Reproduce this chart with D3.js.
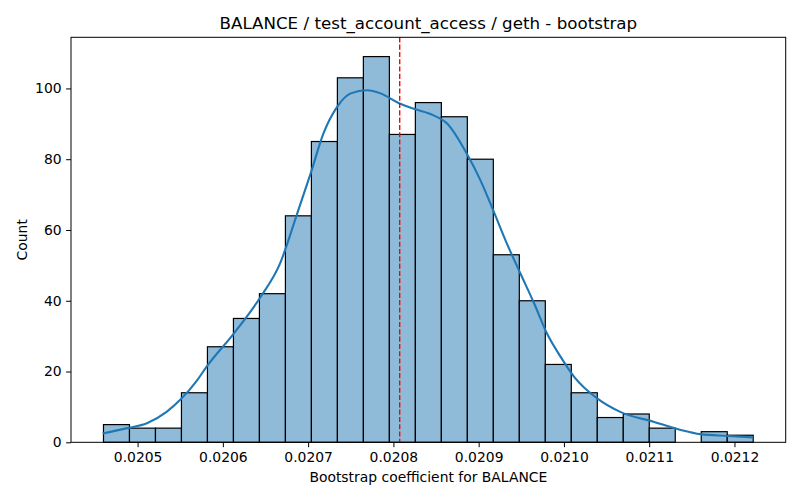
<!DOCTYPE html>
<html><head><meta charset="utf-8">
<script src="https://cdn.jsdelivr.net/npm/d3@7"></script>
<style>body{margin:0;background:#fff}text{font-family:"DejaVu Sans",sans-serif}</style>
</head><body><svg id="c" width="800" height="500"></svg>
<script>
const title = "BALANCE / test_account_access / geth - bootstrap";
const xLabel = "Bootstrap coefficient for BALANCE";
const yLabel = "Count";
const binRange = [0.020460, 0.021222];
const counts = [5,4,4,14,27,35,42,64,85,103,109,87,96,92,80,53,40,22,14,7,8,4,0,3,2];
const xTicks = [0.0205,0.0206,0.0207,0.0208,0.0209,0.0210,0.0211,0.0212];
const yTicks = [0,20,40,60,80,100];
const meanValue = 0.0208074;
const kdeX = [0.020459,0.020488,0.020511,0.020534,0.020550,0.020570,0.020581,0.020613,0.020644,0.020667,0.020687,0.020703,0.020718,0.020734,0.020750,0.020769,0.020785,0.020806,0.020823,0.020847,0.020863,0.020886,0.020902,0.020917,0.020933,0.020949,0.020965,0.020980,0.020996,0.021012,0.021039,0.021066,0.021105,0.021137,0.021160,0.021192,0.021222];
const kdeY = [2.5,4.0,5.4,8.6,12,17.6,21.4,30.8,41,50.5,64.5,76,87.3,94.8,98.6,99.5,98.6,95.9,94.3,92.4,90.1,81.6,74.1,65.6,56.2,47.7,39.3,30.8,24.2,18.5,12.4,8.6,5.8,3.5,2.3,1.8,1.4];

const svg = d3.select("#c");
const L=71, R=785.7, T=37.3, B=442.3;
const span = binRange[1]-binRange[0];
const x = d3.scaleLinear().domain([binRange[0]-0.05*span, binRange[1]+0.05*span]).range([L,R]);
const y = d3.scaleLinear().domain([0, d3.max(counts)*1.05]).range([B,T]);
const bw = span/counts.length;
const bins = counts.map((c,i)=>({x0: binRange[0]+i*bw, x1: binRange[0]+(i+1)*bw, c}));

svg.append("g").selectAll("rect").data(bins).join("rect")
  .attr("x", d=>x(d.x0)).attr("width", d=>x(d.x1)-x(d.x0))
  .attr("y", d=>y(d.c)).attr("height", d=>B-y(d.c))
  .attr("fill", "#8fbbd9").attr("stroke", "#000").attr("stroke-width", 1.2);

const line = d3.line().x((d,i)=>x(kdeX[i])).y(d=>y(d)).curve(d3.curveMonotoneX);
svg.append("path").attr("d", line(kdeY)).attr("fill","none").attr("stroke","#1f77b4").attr("stroke-width",2.1);

svg.append("line").attr("x1", x(meanValue)).attr("x2", x(meanValue)).attr("y1", T).attr("y2", B)
  .attr("stroke","#ff0000").attr("stroke-width",1.4).attr("stroke-dasharray","5.1,2.2");

svg.append("rect").attr("x",L).attr("y",T).attr("width",R-L).attr("height",B-T).attr("fill","none").attr("stroke","#000").attr("stroke-width",1);

const xa = svg.append("g").attr("transform",`translate(0,${B})`)
  .call(d3.axisBottom(x).tickValues(xTicks).tickFormat(d3.format(".4f")).tickSize(4.9).tickPadding(4.5));
const ya = svg.append("g").attr("transform",`translate(${L},0)`)
  .call(d3.axisLeft(y).tickValues(yTicks).tickSize(4.9).tickPadding(4.5));
[xa,ya].forEach(a=>{a.select(".domain").remove();a.selectAll("text").attr("font-size","13.9px").attr("font-family","DejaVu Sans").attr("fill","#000");a.selectAll("line").attr("stroke","#000");});

svg.append("text").attr("x",(L+R)/2).attr("y",28.5).attr("text-anchor","middle").attr("font-size","16.7px").text(title);
svg.append("text").attr("x",(L+R)/2).attr("y",482).attr("text-anchor","middle").attr("font-size","13.9px").text(xLabel);
svg.append("text").attr("transform",`translate(27,${(T+B)/2}) rotate(-90)`).attr("text-anchor","middle").attr("font-size","13.9px").text(yLabel);
</script></body></html>
